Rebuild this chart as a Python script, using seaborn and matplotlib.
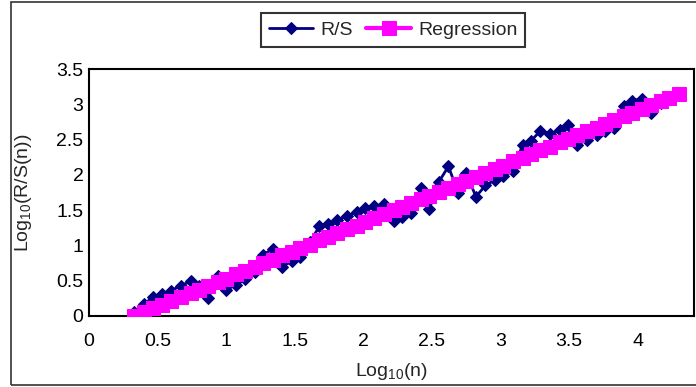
import matplotlib
matplotlib.use("Agg")
import matplotlib.pyplot as plt
import seaborn as sns
import pandas as pd
from matplotlib.patches import Rectangle

# ---- data ----
log_n = [0.33, 0.40, 0.47, 0.53, 0.60, 0.67, 0.74, 0.80, 0.87, 0.94,
         1.00, 1.07, 1.14, 1.21, 1.27, 1.34, 1.41, 1.48, 1.54, 1.61,
         1.68, 1.74, 1.81, 1.88, 1.95, 2.01, 2.08, 2.15, 2.22, 2.28,
         2.35, 2.42, 2.48, 2.55, 2.62, 2.69, 2.75, 2.82, 2.89, 2.96,
         3.02, 3.09, 3.16, 3.22, 3.29, 3.36, 3.43, 3.49, 3.56, 3.63,
         3.70, 3.76, 3.83, 3.90, 3.96, 4.03, 4.10, 4.17, 4.23, 4.30]
rs_values = [0.06, 0.17, 0.27, 0.31, 0.36, 0.43, 0.49, 0.42, 0.26, 0.57,
             0.37, 0.44, 0.52, 0.62, 0.87, 0.95, 0.70, 0.78, 0.83, 1.05,
             1.27, 1.31, 1.36, 1.42, 1.47, 1.53, 1.56, 1.58, 1.34, 1.40,
             1.46, 1.82, 1.51, 1.90, 2.12, 1.75, 2.03, 1.69, 1.85, 1.93,
             1.98, 2.06, 2.42, 2.48, 2.62, 2.58, 2.64, 2.70, 2.43, 2.50,
             2.57, 2.62, 2.67, 2.98, 3.05, 3.08, 2.87, 3.02, 3.10, 3.15]
reg_values = [0.00, 0.06, 0.11, 0.16, 0.21, 0.27, 0.32, 0.37, 0.43, 0.48,
              0.53, 0.59, 0.64, 0.70, 0.75, 0.80, 0.86, 0.91, 0.96, 1.01,
              1.07, 1.12, 1.17, 1.23, 1.28, 1.33, 1.39, 1.44, 1.50, 1.55,
              1.60, 1.66, 1.70, 1.76, 1.82, 1.87, 1.92, 1.97, 2.03, 2.09,
              2.13, 2.19, 2.24, 2.29, 2.35, 2.40, 2.46, 2.51, 2.56, 2.62,
              2.67, 2.72, 2.78, 2.83, 2.88, 2.93, 2.99, 3.04, 3.09, 3.15]
x_ticks = [0, 0.5, 1, 1.5, 2, 2.5, 3, 3.5, 4]
x_tick_labels = ["0", "0.5", "1", "1.5", "2", "2.5", "3", "3.5", "4"]
y_ticks = [0, 0.5, 1, 1.5, 2, 2.5, 3, 3.5]
y_tick_labels = ["0", "0.5", "1", "1.5", "2", "2.5", "3", "3.5"]
series_names = ["R/S", "Regression"]

df = pd.DataFrame({"x": log_n, "rs": rs_values, "reg": reg_values})

sns.set_style("white")
plt.rcParams["font.family"] = ["Liberation Sans", "DejaVu Sans"]
plt.rcParams["mathtext.fontset"] = "custom"
plt.rcParams["mathtext.rm"] = "Liberation Sans"
plt.rcParams["mathtext.it"] = "Liberation Sans:italic"

FS = 14

fig = plt.figure(figsize=(6.96, 3.87), dpi=100)
ax = fig.add_axes([89 / 696, 1 - 316 / 387, (694 - 89) / 696, (316 - 69) / 387])

navy = "#000080"
magenta = "#FF00FF"

sns.lineplot(data=df, x="x", y="rs", ax=ax, color=navy, lw=2, marker="D",
             markersize=6.5, markeredgecolor=navy, label=series_names[0], zorder=2)
sns.lineplot(data=df, x="x", y="reg", ax=ax, color=magenta, lw=3, marker="s",
             markersize=9.5, markeredgecolor=magenta, label=series_names[1], zorder=3)

ax.set_xlim(0, 4.41)
ax.set_ylim(0, 3.5)
ax.set_xticks(x_ticks)
ax.set_xticklabels(x_tick_labels)
ax.set_yticks(y_ticks)
ax.set_yticklabels(y_tick_labels)
ax.tick_params(direction="in", length=5, width=1.5, labelsize=FS, colors="black",
               pad=4)
ax.tick_params(axis="x", pad=12)
for s in ax.spines.values():
    s.set_color("black")
    s.set_linewidth(1.5)
    s.set_visible(True)

ax.set_xlabel(r"Log$_{10}$(n)", fontsize=FS, labelpad=8)
ax.set_ylabel(r"Log$_{10}$(R/S(n))", fontsize=FS, labelpad=16)

leg = ax.legend(loc="center", bbox_to_anchor=(393 / 696, 1 - 30 / 387),
                bbox_transform=fig.transFigure, ncol=2, fontsize=FS,
                frameon=True, fancybox=False, handlelength=2.3,
                columnspacing=0.7, handletextpad=0.35, borderpad=0.4,
                markerscale=1.0)
leg.get_frame().set_edgecolor("black")
leg.get_frame().set_linewidth(1.5)

fig.patches.append(Rectangle((11 / 696, 2 / 387), 1.0, 383 / 387,
                             transform=fig.transFigure, fill=False,
                             edgecolor="#333333", linewidth=1.2))

fig.savefig("out.png", dpi=100)
